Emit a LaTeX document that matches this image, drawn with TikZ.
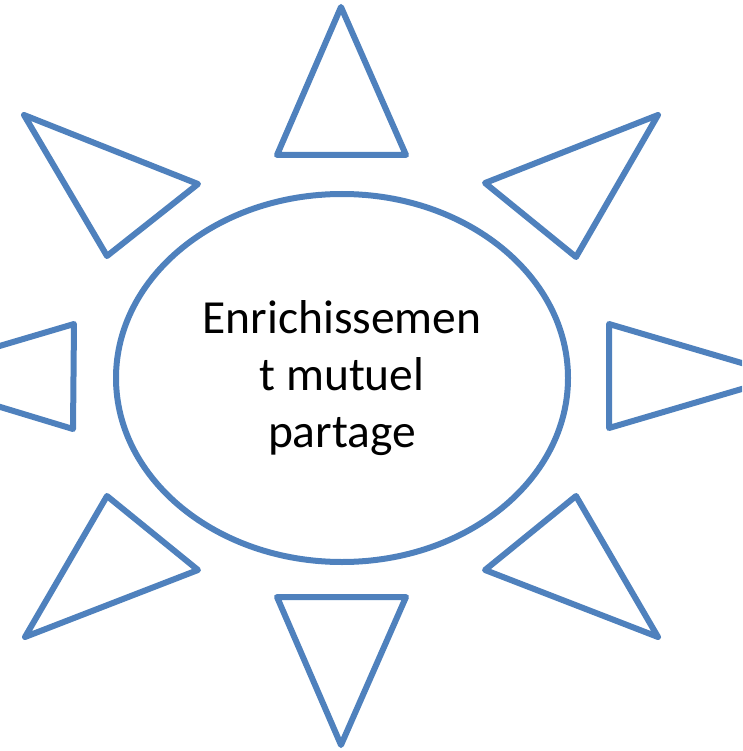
\documentclass[tikz,border=0pt]{standalone}
\usepackage{fontspec}
\setmainfont{Carlito}
\usetikzlibrary{shapes.geometric}
\definecolor{rayblue}{HTML}{4F81BD}
\tikzset{
  ray/.style={draw=rayblue, line width=6pt, line join=round, fill=white},
}
\begin{document}
\begin{tikzpicture}[x=1pt, y=-1pt]
            % ==== FRAME ====
            \useasboundingbox (0,0) rectangle (742,751);
            \clip (0,0) rectangle (742,751);

            % ==== CENTRE ====
            \node[ellipse, draw=rayblue, line width=6pt, minimum width=452pt, minimum height=368pt, inner sep=0pt, align=center, font=\fontsize{47.5}{57}\selectfont] (sun) at (342,378) {Enrichissemen\\t mutuel\\partage};

            % ==== TOP AND BOTTOM ====
            \draw[ray] (341,7) -- (406,155) -- (277,155) -- cycle;
            \draw[ray] (277,597) -- (406,597) -- (341,745) -- cycle;

            % ==== LEFT AND RIGHT ====
            \draw[ray] (74,324) -- (73,429) -- (-102,376) -- cycle;
            \draw[ray] (609,324) -- (786,376) -- (609,428) -- cycle;

            % ==== DIAGONALS ====
            \draw[ray] (24,115) -- (198,184) -- (107,256) -- cycle;
            \draw[ray] (658,115) -- (576,257) -- (485,183) -- cycle;
            \draw[ray] (107,496) -- (198,570) -- (25,637) -- cycle;
            \draw[ray] (576,496) -- (658,637) -- (485,570) -- cycle;

        \end{tikzpicture}
\end{document}
